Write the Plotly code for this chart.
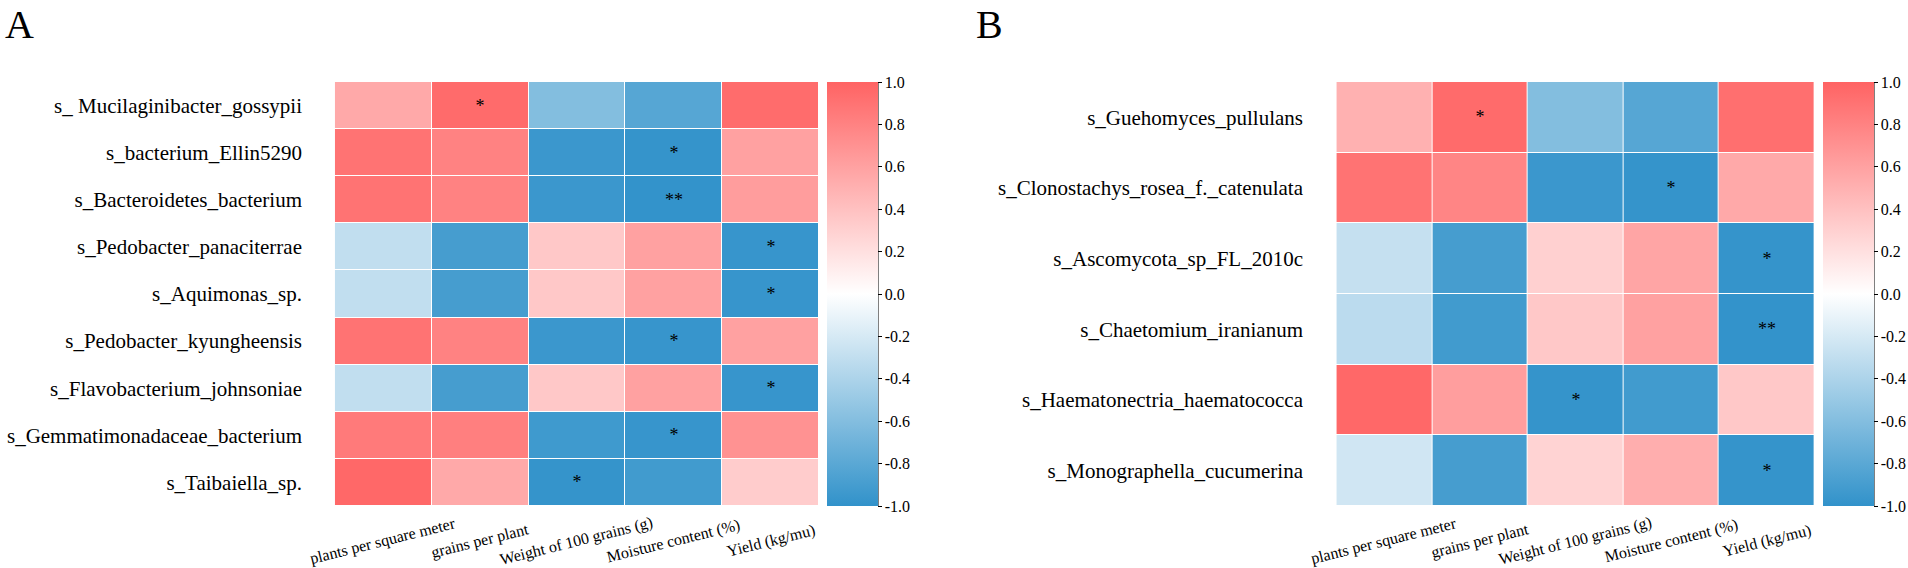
import plotly.graph_objects as go

# correlation of species abundance with yield traits
traits = ["plants per square meter", "grains per plant", "Weight of 100 grains (g)",
          "Moisture content (%)", "Yield (kg/mu)"]

bact_species = ["s_ Mucilaginibacter_gossypii", "s_bacterium_Ellin5290", "s_Bacteroidetes_bacterium",
                "s_Pedobacter_panaciterrae", "s_Aquimonas_sp.", "s_Pedobacter_kyungheensis",
                "s_Flavobacterium_johnsoniae", "s_Gemmatimonadaceae_bacterium", "s_Taibaiella_sp."]
bact_r = [
    [0.55, 0.95, -0.60, -0.82, 0.94],
    [0.90, 0.80, -0.95, -0.98, 0.60],
    [0.90, 0.80, -0.95, -0.99, 0.63],
    [-0.30, -0.90, 0.35, 0.60, -0.97],
    [-0.30, -0.90, 0.35, 0.60, -0.97],
    [0.90, 0.80, -0.95, -0.97, 0.60],
    [-0.30, -0.90, 0.35, 0.60, -0.97],
    [0.85, 0.82, -0.93, -0.97, 0.70],
    [0.97, 0.55, -0.98, -0.92, 0.33],
]
bact_sig = [
    ["", "*", "", "", ""],
    ["", "", "", "*", ""],
    ["", "", "", "**", ""],
    ["", "", "", "", "*"],
    ["", "", "", "", "*"],
    ["", "", "", "*", ""],
    ["", "", "", "", "*"],
    ["", "", "", "*", ""],
    ["", "", "*", "", ""],
]

fungi_species = ["s_Guehomyces_pullulans", "s_Clonostachys_rosea_f._catenulata", "s_Ascomycota_sp_FL_2010c",
                 "s_Chaetomium_iranianum", "s_Haematonectria_haematococca", "s_Monographella_cucumerina"]
fungi_r = [
    [0.50, 0.95, -0.60, -0.82, 0.92],
    [0.90, 0.78, -0.95, -0.98, 0.55],
    [-0.28, -0.90, 0.30, 0.58, -0.98],
    [-0.33, -0.92, 0.35, 0.60, -0.99],
    [0.97, 0.62, -0.98, -0.92, 0.35],
    [-0.23, -0.90, 0.28, 0.52, -0.98],
]
fungi_sig = [
    ["", "*", "", "", ""],
    ["", "", "", "*", ""],
    ["", "", "", "", "*"],
    ["", "", "", "", "**"],
    ["", "", "*", "", ""],
    ["", "", "", "", "*"],
]

cbar_ticks = [1.0, 0.8, 0.6, 0.4, 0.2, 0.0, -0.2, -0.4, -0.6, -0.8, -1.0]

W, H = 1908, 568
FONT = "Liberation Serif"
cscale = [[0, "rgb(49,146,202)"], [0.5, "rgb(255,255,255)"], [1, "rgb(255,99,99)"]]

# pixel layout of the two panels
top, bottom = 82, 506
panels = [
    dict(x0=306, x1=819, cb=827, letter="A", lx=5),
    dict(x0=1307, x1=1815, cb=1823, letter="B", lx=976),
]


def cbar(xpix):
    return dict(
        x=xpix / W, xanchor="left", y=1 - bottom / H, yanchor="bottom", xpad=0, ypad=0,
        len=(bottom - top) / H, lenmode="fraction", thickness=51, thicknessmode="pixels",
        outlinewidth=0, ticks="outside", ticklen=4, tickcolor="black", tickwidth=1,
        tickvals=cbar_ticks, ticktext=[f"{v:.1f}" for v in cbar_ticks],
        tickfont=dict(family=FONT, size=16, color="black"),
    )


fig = go.Figure()
data = [(bact_species, bact_r, bact_sig), (fungi_species, fungi_r, fungi_sig)]
for i, ((species, r, sig), p) in enumerate(zip(data, panels)):
    xa = "x" if i == 0 else "x2"
    ya = "y" if i == 0 else "y2"
    fig.add_trace(go.Heatmap(
        z=r, x=traits, y=species, text=sig, texttemplate="%{text}",
        textfont=dict(family=FONT, size=18, color="black"),
        colorscale=cscale, zmin=-1, zmax=1, xgap=1, ygap=1,
        colorbar=cbar(p["cb"]), xaxis=xa, yaxis=ya,
    ))
    # colorbar axis line
    fig.add_shape(type="line", xref="paper", yref="paper",
                  x0=(p["cb"] + 51) / W, x1=(p["cb"] + 51) / W,
                  y0=1 - bottom / H, y1=1 - top / H,
                  line=dict(color="black", width=1))
    # rotated x labels centred under each column
    for t in traits:
        fig.add_annotation(x=t, y=1 - 541 / H, xref=xa, yref="paper", text=t,
                           textangle=-14, showarrow=False, xanchor="center", yanchor="middle",
                           font=dict(family=FONT, size=16, color="black"))
    fig.add_annotation(x=(p["lx"] - 2) / W, y=1, xref="paper", yref="paper", text=p["letter"],
                       showarrow=False, xanchor="left", yanchor="top",
                       font=dict(family=FONT, size=40, color="black"))

axis_common = dict(showgrid=False, zeroline=False, showline=False, ticks="")
yfont = dict(family=FONT, size=21, color="black")
fig.update_layout(
    width=W, height=H,
    margin=dict(l=0, r=0, t=0, b=0),
    paper_bgcolor="white", plot_bgcolor="white",
    font=dict(family=FONT, color="black"),
    xaxis=dict(domain=[panels[0]["x0"] / W, panels[0]["x1"] / W], showticklabels=False, **axis_common),
    xaxis2=dict(domain=[panels[1]["x0"] / W, panels[1]["x1"] / W], showticklabels=False, anchor="y2", **axis_common),
    yaxis=dict(domain=[1 - bottom / H, 1 - top / H], autorange="reversed", automargin=False,
               tickfont=yfont, ticklabelstandoff=3, **axis_common),
    yaxis2=dict(domain=[1 - bottom / H, 1 - top / H], autorange="reversed", automargin=False, anchor="x2",
                tickfont=yfont, ticklabelstandoff=3, **axis_common),
)

# page body has an 8px default margin, drop it so the figure fills the window
fig.write_html("out.html", config={"displayModeBar": False},
               post_script="document.body.style.margin='0';document.body.style.overflow='hidden';")
